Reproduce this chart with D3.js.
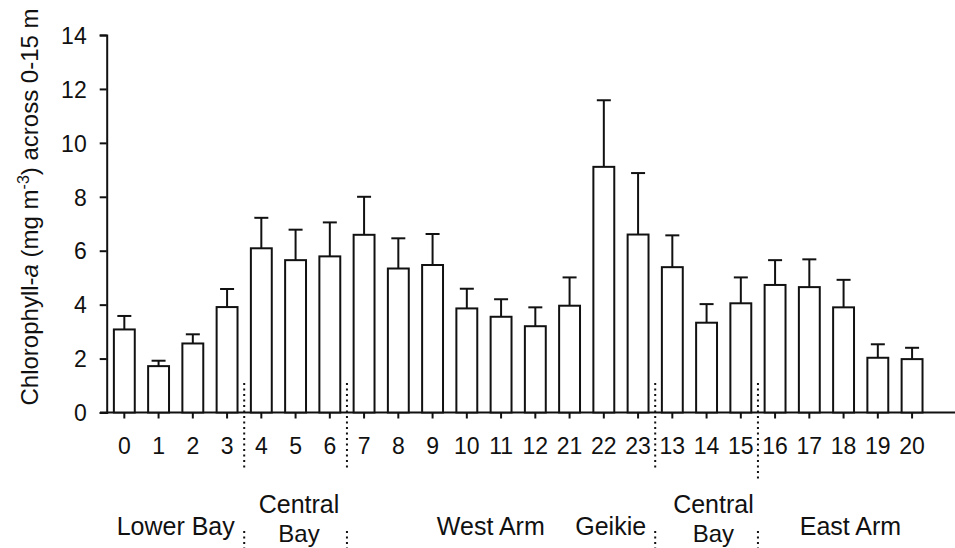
<!DOCTYPE html>
<html>
<head>
<meta charset="utf-8">
<script src="https://cdn.jsdelivr.net/npm/d3@7"></script>
<style>
  body { margin: 0; background: #fff; }
  svg { display: block; font-family: "Liberation Sans", Arial, sans-serif; }
</style>
</head>
<body>
<svg id="chart" width="955" height="548"></svg>
<script>
// station labels, in the order they are plotted
const stations = ["0","1","2","3","4","5","6","7","8","9","10","11","12","21","22","23","13","14","15","16","17","18","19","20"];
// mean chlorophyll-a (mg m-3), 0-15 m
const means = [3.08,1.72,2.56,3.91,6.09,5.65,5.79,6.59,5.34,5.47,3.86,3.55,3.20,3.96,9.11,6.60,5.39,3.33,4.05,4.73,4.65,3.90,2.03,1.98];
// upper error (sd)
const errs = [0.50,0.20,0.34,0.67,1.13,1.13,1.26,1.41,1.12,1.15,0.73,0.65,0.70,1.05,2.47,2.28,1.18,0.69,0.96,0.92,1.03,1.02,0.50,0.42];
const yTicks = [0,2,4,6,8,10,12,14];

// region names (lines) and dotted dividers between stations
const regions = [["Lower Bay"], ["Central","Bay"], ["West Arm"], ["Geikie"], ["Central","Bay"], ["East Arm"]];
const dividers = [["3","4"], ["6","7"], ["23","13"], ["15","16"]];

const data = stations.map((s, i) => ({ st: s, mean: means[i], err: errs[i] }))

const svg = d3.select("#chart")

const x = d3.scaleBand()
  .domain(stations)
  .range([107.2, 929.2])
  .paddingInner(0.39)
  .paddingOuter(0.195)

const y = d3.scaleLinear()
  .domain([0, 14])
  .range([412.5, 35])

const cx = s => x(s) + x.bandwidth() / 2

// y axis
const yAxis = svg.append("g")
  .attr("transform", "translate(106.7,0)")
  .call(d3.axisLeft(y).tickValues(yTicks).tickSize(7).tickSizeOuter(7))
yAxis.select(".domain").attr("stroke", "#111").attr("stroke-width", 2)
yAxis.selectAll(".tick line").attr("stroke", "#111").attr("stroke-width", 2)
yAxis.selectAll(".tick text")
  .attr("x", -20)
  .attr("dy", "0.36em")
  .attr("fill", "#111")
  .style("font-size", "23px")
  .style("font-family", "'Liberation Sans', Arial, sans-serif")

// x axis
const xAxis = svg.append("g")
  .attr("transform", "translate(0," + y(0) + ")")
  .call(d3.axisBottom(x).tickSize(6).tickSizeOuter(0))
xAxis.select(".domain").remove()
xAxis.selectAll(".tick line").attr("stroke", "#111").attr("stroke-width", 2)
xAxis.selectAll(".tick text")
  .attr("y", 41.5)
  .attr("dy", 0)
  .attr("fill", "#111")
  .style("font-size", "23px")
  .style("font-family", "'Liberation Sans', Arial, sans-serif")

svg.append("line")
  .attr("x1", 100).attr("x2", 955)
  .attr("y1", y(0)).attr("y2", y(0))
  .attr("stroke", "#111").attr("stroke-width", 2)

// bars
svg.append("g").selectAll("rect")
  .data(data)
  .join("rect")
  .attr("x", d => x(d.st))
  .attr("y", d => y(d.mean))
  .attr("width", x.bandwidth())
  .attr("height", d => y(0) - y(d.mean))
  .attr("fill", "#fff")
  .attr("stroke", "#111")
  .attr("stroke-width", 2)

// error bars (upper only)
const eb = svg.append("g").attr("stroke", "#111").attr("stroke-width", 2)
eb.selectAll(".stem")
  .data(data)
  .join("line")
  .attr("class", "stem")
  .attr("x1", d => cx(d.st)).attr("x2", d => cx(d.st))
  .attr("y1", d => y(d.mean)).attr("y2", d => y(d.mean + d.err))
eb.selectAll(".cap")
  .data(data)
  .join("line")
  .attr("class", "cap")
  .attr("x1", d => cx(d.st) - 7).attr("x2", d => cx(d.st) + 7)
  .attr("y1", d => y(d.mean + d.err)).attr("y2", d => y(d.mean + d.err))

// dotted region dividers
const divBottom = [468, 468, 468, 480]
const dv = svg.append("g")
  .attr("stroke", "#111")
  .attr("stroke-width", 2)
  .attr("stroke-dasharray", "2,3.5")
dividers.forEach(function(p, i){
  var xx = (cx(p[0]) + cx(p[1])) / 2
  dv.append("line").attr("x1", xx).attr("x2", xx).attr("y1", 383).attr("y2", divBottom[i])
  dv.append("line").attr("x1", xx).attr("x2", xx).attr("y1", 531).attr("y2", 548)
})

// region labels, centre given as fractional station index
const regionAt = [1.5, 5.1, 10.7, 14.2, 17.2, 21.2]
const step = x.step()
const x0 = cx(stations[0])
regions.forEach(function(lines, i){
  var t = svg.append("text")
    .attr("x", x0 + regionAt[i] * step)
    .attr("text-anchor", "middle")
    .attr("fill", "#111")
    .style("font-size", "25px")
  if (lines.length == 1) {
    t.attr("y", 535).text(lines[0])
  } else {
    t.attr("y", 513).text(lines[0])
    svg.append("text")
      .attr("x", x0 + regionAt[i] * step)
      .attr("y", 542)
      .attr("text-anchor", "middle")
      .attr("fill", "#111")
      .style("font-size", "24px")
      .text(lines[1])
  }
})

// y axis title
const title = svg.append("text")
  .attr("transform", "translate(38,207) rotate(-90)")
  .attr("text-anchor", "middle")
  .attr("fill", "#111")
  .style("font-size", "24px")
title.append("tspan").text("Chlorophyll-")
title.append("tspan").style("font-style", "italic").text("a")
title.append("tspan").text(" (mg m")
title.append("tspan").attr("dy", -9).style("font-size", "16px").text("-3")
title.append("tspan").attr("dy", 9).text(") across 0-15 m")
</script>
</body>
</html>
